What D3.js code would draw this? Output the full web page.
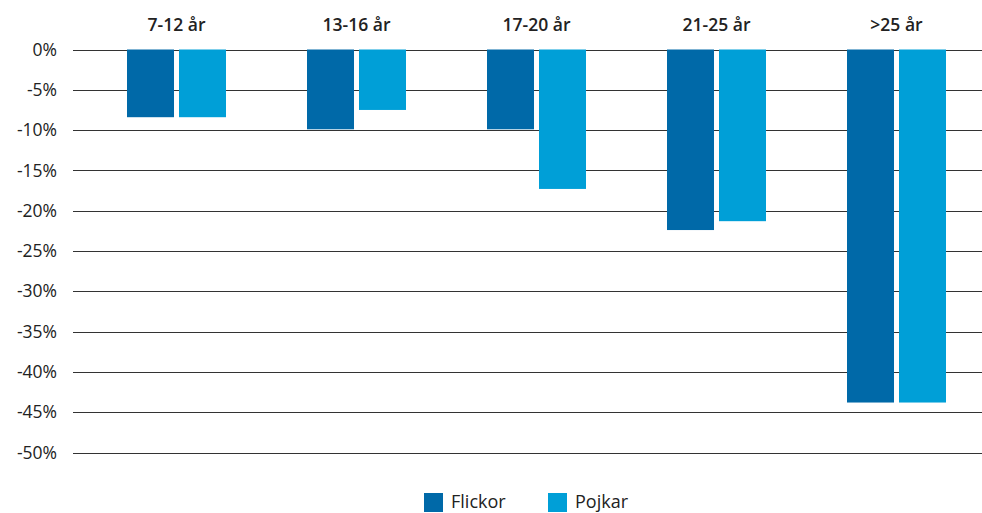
<!DOCTYPE html>
<html>
<head>
<meta charset="utf-8">
<script src="https://cdn.jsdelivr.net/npm/d3@7"></script>
<style>
  html, body { margin: 0; padding: 0; background: #fff; }
  svg { display: block; font-family: "Open Sans", Lato, sans-serif; }
</style>
</head>
<body>
<svg id="chart" width="982" height="513"></svg>
<script>
// Age groups and change per group (percent)
const categories = ["7-12 år", "13-16 år", "17-20 år", "21-25 år", ">25 år"];
const seriesNames = ["Flickor", "Pojkar"];
const flickor = [-8.4, -9.9, -9.9, -22.4, -43.8];
const pojkar = [-8.4, -7.5, -17.3, -21.3, -43.8];
const tickValues = [0, -5, -10, -15, -20, -25, -30, -35, -40, -45, -50];
const colors = ["#0069a8", "#009fd7"];

const rows = categories.map((c, i) => ({ cat: c, values: [flickor[i], pojkar[i]] }));

const svg = d3.select("#chart");
const gridLeft = 73, gridRight = 982;
const fontFamily = "'Open Sans', Lato, sans-serif";

const x = d3.scaleBand().domain(categories).range([86.5, 986.5]).paddingInner(0).paddingOuter(0);
const xs = d3.scaleBand().domain(seriesNames).range([0, x.bandwidth()]).paddingInner(0.096).paddingOuter(0.779);
const y = d3.scaleLinear().domain([0, -50]).range([49.5, 452.5]);

// Gridlines and tick labels
const yAxis = d3.axisLeft(y).tickValues(tickValues).tickSize(0).tickPadding(0)
  .tickFormat(d => d + "%");
const gy = svg.append("g").attr("transform", `translate(${gridLeft - 16},0)`).call(yAxis);
gy.select(".domain").remove();
gy.selectAll("text").attr("font-size", 17.5).attr("fill", "#222").attr("font-family", fontFamily);

svg.append("g").selectAll("line").data(tickValues).join("line")
  .attr("x1", gridLeft).attr("x2", gridRight)
  .attr("y1", d => Math.round(y(d)) + 0.5).attr("y2", d => Math.round(y(d)) + 0.5)
  .attr("stroke", "#333").attr("stroke-width", 1);

// Bars
const groups = svg.append("g").selectAll("g").data(rows).join("g")
  .attr("transform", d => `translate(${x(d.cat)},0)`);
groups.selectAll("rect").data(d => d.values.map((v, i) => ({ v, s: seriesNames[i], i })))
  .join("rect")
  .attr("x", d => xs(d.s))
  .attr("width", xs.bandwidth())
  .attr("y", y(0))
  .attr("height", d => y(d.v) - y(0))
  .attr("fill", d => colors[d.i]);

// Category labels on top
const xAxis = d3.axisTop(x).tickSize(0).tickPadding(0);
const gx = svg.append("g").attr("transform", "translate(0,31)").call(xAxis);
gx.select(".domain").remove();
gx.selectAll("text").attr("font-size", 17.5).attr("font-weight", 600).attr("fill", "#222")
  .attr("dy", 0).attr("font-family", fontFamily);

// Legend
const legendX = [424, 548];
const legend = svg.append("g").selectAll("g").data(seriesNames).join("g")
  .attr("transform", (d, i) => `translate(${legendX[i]},493)`);
legend.append("rect").attr("width", 19).attr("height", 19).attr("fill", (d, i) => colors[i]);
legend.append("text").attr("x", 27).attr("y", 15).attr("font-size", 18).attr("fill", "#222")
  .attr("font-family", fontFamily).text(d => d);
</script>
</body>
</html>
